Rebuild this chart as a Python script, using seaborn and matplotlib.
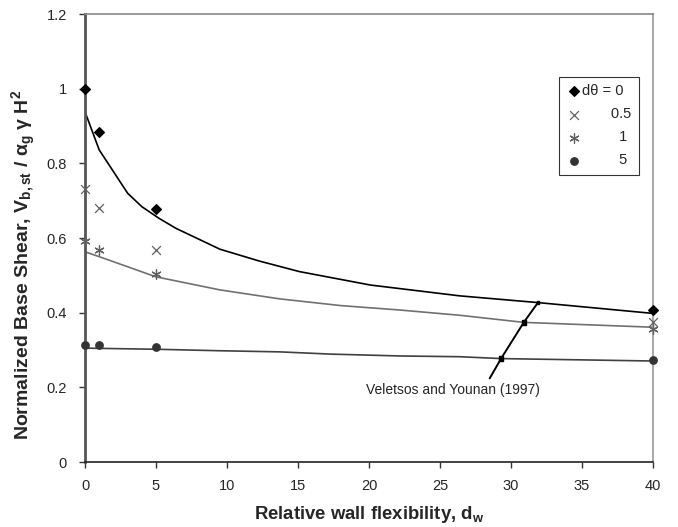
import matplotlib
matplotlib.use("Agg")
import matplotlib.pyplot as plt
import seaborn as sns
import pandas as pd
import numpy as np

# ---- data ----
d_points = [0, 1, 5, 40]
y_d0 = [1.0, 0.885, 0.677, 0.407]
y_d05 = [0.730, 0.680, 0.568, 0.376]
y_d1 = [0.593, 0.568, 0.504, 0.355]
y_d5 = [0.3125, 0.3125, 0.309, 0.273]

curve_upper_x = [0, 1, 2, 3, 4, 5.2, 6.4, 9.5, 12.3, 15.1, 20.1, 26.4, 31.9, 40]
curve_upper_y = [0.938, 0.836, 0.778, 0.72, 0.684, 0.653, 0.626, 0.57, 0.538, 0.51, 0.474, 0.445, 0.427, 0.398]
curve_mid_x = [0, 1, 5, 9.5, 13.7, 18, 22.2, 26.4, 30.9, 40]
curve_mid_y = [0.563, 0.550, 0.496, 0.461, 0.437, 0.419, 0.407, 0.393, 0.374, 0.361]
curve_low_x = [0, 5, 9.5, 13.7, 17.3, 22.2, 26.4, 29.3, 40]
curve_low_y = [0.305, 0.302, 0.298, 0.295, 0.289, 0.284, 0.282, 0.277, 0.2705]

pointer_x = [28.5, 29.3, 30.9, 31.9]
pointer_y = [0.224, 0.277, 0.374, 0.427]

x_ticks = [0, 5, 10, 15, 20, 25, 30, 35, 40]
y_ticks = [0, 0.2, 0.4, 0.6, 0.8, 1.0, 1.2]
y_tick_labels = ["0", "0.2", "0.4", "0.6", "0.8", "1", "1.2"]
legend_labels = ["d\u03b8 = 0", "0.5", "1", "5"]

sns.set_style("white")
plt.rcParams['font.family'] = ['Liberation Sans', 'DejaVu Sans']
plt.rcParams['mathtext.fontset'] = 'custom'
plt.rcParams['mathtext.rm'] = 'Liberation Sans'
plt.rcParams['mathtext.bf'] = 'Liberation Sans:bold'
plt.rcParams['mathtext.it'] = 'Liberation Sans:italic'

fig = plt.figure(figsize=(6.78, 5.27), dpi=100)
ax = fig.add_axes([85/678, 1 - 462/527, (653-85)/678, (462-14)/527])

# curves
sns.lineplot(x=curve_upper_x, y=curve_upper_y, ax=ax, color="black", lw=1.2, sort=False)
sns.lineplot(x=curve_mid_x, y=curve_mid_y, ax=ax, color="#707070", lw=1.2, sort=False)
sns.lineplot(x=curve_low_x, y=curve_low_y, ax=ax, color="#404040", lw=1.2, sort=False)

# points
h0 = ax.scatter(d_points, y_d0, marker="D", s=24, color="black", zorder=5, clip_on=False)
h1 = ax.scatter(d_points, y_d05, marker="x", s=40, color="#606060", linewidths=0.9, zorder=5, clip_on=False)
h2 = ax.scatter(d_points, y_d1, marker=(6, 2, 0), s=45, color="#606060", linewidths=0.9, zorder=5, clip_on=False)
h3 = ax.scatter(d_points, y_d5, marker="o", s=28, color="#333333", zorder=5, clip_on=False)

# annotation pointer
sns.lineplot(x=pointer_x, y=pointer_y, ax=ax, color="black", lw=1.4, sort=False)
ax.scatter(pointer_x[1:], pointer_y[1:], marker="s", s=[10, 10, 4], color="black", zorder=6)
ax.text(25.9, 0.193, "Veletsos and Younan (1997)", ha="center", va="center", fontsize=10)

ax.set_xlim(0, 40)
ax.set_ylim(0, 1.2)
ax.set_xticks(x_ticks)
ax.set_xticklabels([str(t) for t in x_ticks], fontsize=10.5)
ax.set_yticks(y_ticks)
ax.set_yticklabels(y_tick_labels, fontsize=10.5)
ax.tick_params(axis="x", direction="out", length=4, width=1, color="#333333", pad=8, bottom=True)
ax.tick_params(axis="y", direction="out", length=4, width=1, color="#333333", pad=9, left=True)

ax.spines["left"].set_color("#555555")
ax.spines["left"].set_linewidth(2)
ax.spines["bottom"].set_color("#222222")
ax.spines["bottom"].set_linewidth(1.2)
ax.spines["top"].set_color("#888888")
ax.spines["top"].set_linewidth(1.2)
ax.spines["right"].set_color("#aaaaaa")
ax.spines["right"].set_linewidth(1.5)

ax.set_xlabel("Relative wall flexibility, d$_\\mathbf{w}$", fontsize=13.3, fontweight="bold")
ax.xaxis.set_label_coords(0.5, -0.094)
ax.set_ylabel("Normalized Base Shear, V$_\\mathbf{b,st}$ / $\\mathbf{\\alpha_g}$ $\\mathbf{\\gamma}$ H$^\\mathbf{2}$",
              fontsize=14, fontweight="bold")
ax.yaxis.set_label_coords(-0.083, 0.44)

leg = ax.legend([h0, h1, h2, h3],
                [legend_labels[0], "       " + legend_labels[1], "         " + legend_labels[2], "         " + legend_labels[3]],
                loc="upper left", bbox_to_anchor=((559-85)/568, 1 - (77-14)/448),
                frameon=True, fancybox=False, edgecolor="black", fontsize=10.5,
                handletextpad=0.1, handlelength=1.0, borderpad=0.5, labelspacing=0.62, borderaxespad=0)
leg.get_frame().set_linewidth(0.8)

fig.savefig("out.png", dpi=100)
